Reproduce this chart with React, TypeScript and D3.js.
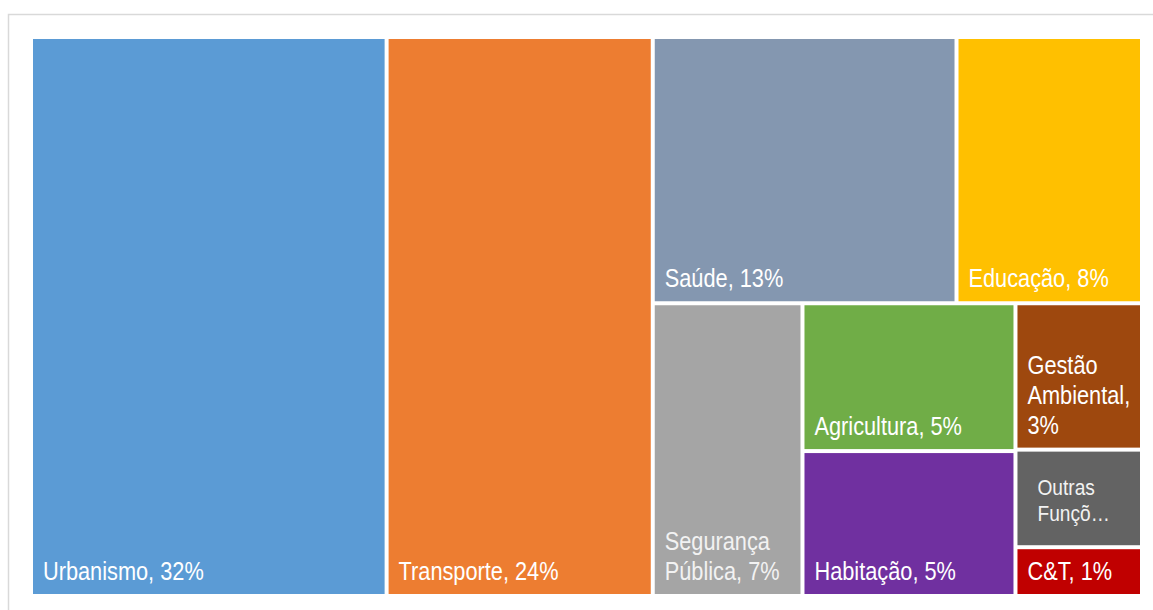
import React from "react";
import { hierarchy, treemap, treemapDice, treemapSlice } from "d3";

// share of spending per function (%)
const categories = [
  "Urbanismo", "Transporte", "Saúde", "Educação", "Segurança Pública",
  "Agricultura", "Habitação", "Gestão Ambiental", "Outras Funções", "C&T",
];
const shares = [32.2, 24.1, 13.1, 8.0, 7.1, 5.1, 5.0, 3.0, 2.0, 1.0];
const colors = [
  "#5B9BD5", "#ED7D31", "#8497B0", "#FFC000", "#A5A5A5",
  "#70AD47", "#7030A0", "#9E480E", "#636363", "#C00000",
];
const labelLines = [
  ["Urbanismo, 32%"], ["Transporte, 24%"], ["Saúde, 13%"], ["Educação, 8%"],
  ["Segurança", "Pública, 7%"], ["Agricultura, 5%"], ["Habitação, 5%"],
  ["Gestão", "Ambiental,", "3%"], ["Outras", "Funçõ…"], ["C&T, 1%"],
];

// how Excel grouped the tiles: h = side by side, v = stacked
const groups = {
  dir: "h",
  children: [
    0, 1,
    { dir: "v", children: [
      { dir: "h", children: [2, 3] },
      { dir: "h", children: [4, { dir: "v", children: [5, 6] }, { dir: "v", children: [7, 8, 9] }] },
    ] },
  ],
};

const width = 1153;
const height = 610;
const area = { left: 33, top: 39, right: 1140, bottom: 594 };

const toNode = (g: any): any =>
  typeof g === "number" ? { idx: g } : { dir: g.dir, children: g.children.map(toNode) };

const tile = (node: any, x0: number, y0: number, x1: number, y1: number) => {
  if (node.data.dir === "h") treemapDice(node, x0, y0, x1, y1);
  else treemapSlice(node, x0, y0, x1, y1);
};

const App = () => {
  const root = hierarchy(toNode(groups))
    .sum((d: any) => (d.idx === undefined ? 0 : shares[d.idx]));

  treemap()
    .tile(tile as any)
    .size([area.right - area.left, area.bottom - area.top])
    .paddingInner(4)(root as any);

  const leaves: any[] = root.leaves();
  const fontSize = 25;
  const lineH = 30;

  return (
    <svg width={width} height={height} style={{ position: "absolute", left: 0, top: 0 }}>
      <rect x={8.5} y={14.5} width={1170} height={620} fill="white" stroke="#D9D9D9" strokeWidth={1.5} />
      <g transform={`translate(${area.left}, ${area.top})`}>
        {leaves.map((d, i) => {
          const idx = d.data.idx;
          const lines = labelLines[idx];
          const isOther = idx === 8;
          const fs = isOther ? 22 : fontSize;
          const lh = isOther ? 26 : lineH;
          const bottomPad = isOther ? 24 : 14;
          const tx = d.x0 + (isOther ? 20 : 10);
          const lastY = d.y1 - bottomPad;
          return (
            <g key={i}>
              <rect x={d.x0} y={d.y0} width={d.x1 - d.x0} height={d.y1 - d.y0} fill={colors[idx]} />
              {lines.map((t: string, j: number) => (
                <text
                  key={j}
                  transform={`translate(${tx}, ${lastY - (lines.length - 1 - j) * lh}) scale(0.87, 1)`}
                  fill={idx === 4 || idx === 8 ? "#F2F2F2" : "white"}
                  fontFamily="'Liberation Sans', Arial, sans-serif"
                  fontSize={fs}
                >
                  {t}
                </text>
              ))}
            </g>
          );
        })}
      </g>
    </svg>
  );
};

export default App;
